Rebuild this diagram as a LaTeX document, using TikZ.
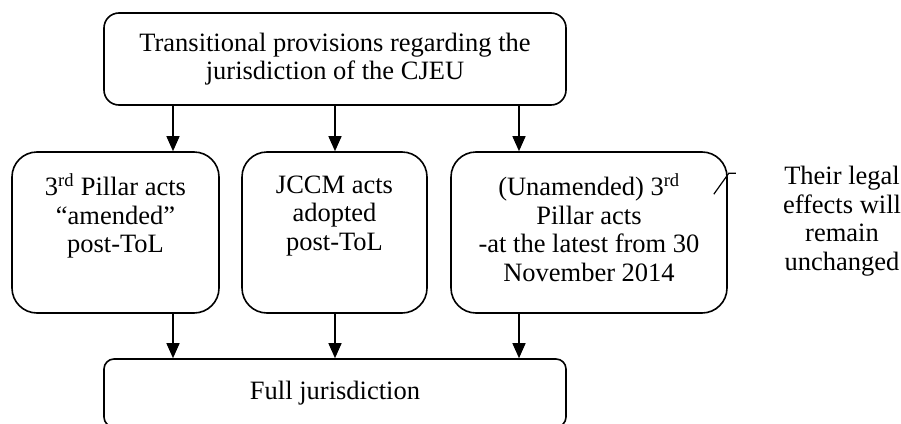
\documentclass[tikz,border=0pt]{standalone}
\usepackage{fontspec}
\setmainfont{Liberation Serif}
\usetikzlibrary{arrows.meta}
\newcommand\firstline{\rule{0pt}{19pt}}
\begin{document}
\begin{tikzpicture}[x=1pt,y=-1pt,
    every node/.style={font=\fontsize{26.5}{28.5}\selectfont},
    box/.style={draw,line width=1.6pt,inner sep=0pt},
    flow/.style={line width=1.4pt,-{Triangle[length=15pt,width=13pt]}}]
  \useasboundingbox (0,0) rectangle (901,423);
  \node[box,align=center,rounded corners=15pt,minimum width=462pt,minimum height=92pt] (prov) at (335,59) {Transitional provisions regarding the\\jurisdiction of the CJEU};
  \node[box,rounded corners=25pt,minimum width=207pt,minimum height=161pt] (amended) at (115.5,232.5) {\parbox[c][117pt][t]{195pt}{\centering\firstline 3\textsuperscript{rd} Pillar acts\\“amended”\\post-ToL}};
  \node[box,rounded corners=25pt,minimum width=185pt,minimum height=161pt] (jccm) at (334.5,232.5) {\parbox[c][117pt][t]{175pt}{\centering\firstline JCCM acts\\adopted\\post-ToL}};
  \node[box,rounded corners=25pt,minimum width=276pt,minimum height=161pt] (unamended) at (589,232.5) {\parbox[c][117pt][t]{266pt}{\centering\firstline (Unamended) 3\textsuperscript{rd}\\Pillar acts\\-at the latest from 30\\November 2014}};
  \node[box,rounded corners=10pt,minimum width=462pt,minimum height=68pt] (full) at (335,393) {Full jurisdiction};
  \node[align=center,inner sep=0pt] (effects) at (842,221) {Their legal\\effects will\\remain\\unchanged};
  % lanes of the arrows
  \coordinate (lane1) at (173,0);
  \coordinate (lane2) at (335,0);
  \coordinate (lane3) at (519,0);
  \draw[flow] (prov.south -| lane1) -- (amended.north -| lane1);
  \draw[flow] (prov.south -| lane2) -- (jccm.north -| lane2);
  \draw[flow] (prov.south -| lane3) -- (unamended.north -| lane3);
  \draw[flow] (amended.south -| lane1) -- (full.north -| lane1);
  \draw[flow] (jccm.south -| lane2) -- (full.north -| lane2);
  \draw[flow] (unamended.south -| lane3) -- (full.north -| lane3);
  % callout mark
  \draw[line width=1.2pt] ([shift={(-14,43)}]unamended.north east) -- ([shift={(1,22)}]unamended.north east) -- ++(7,0);
\end{tikzpicture}
\end{document}
